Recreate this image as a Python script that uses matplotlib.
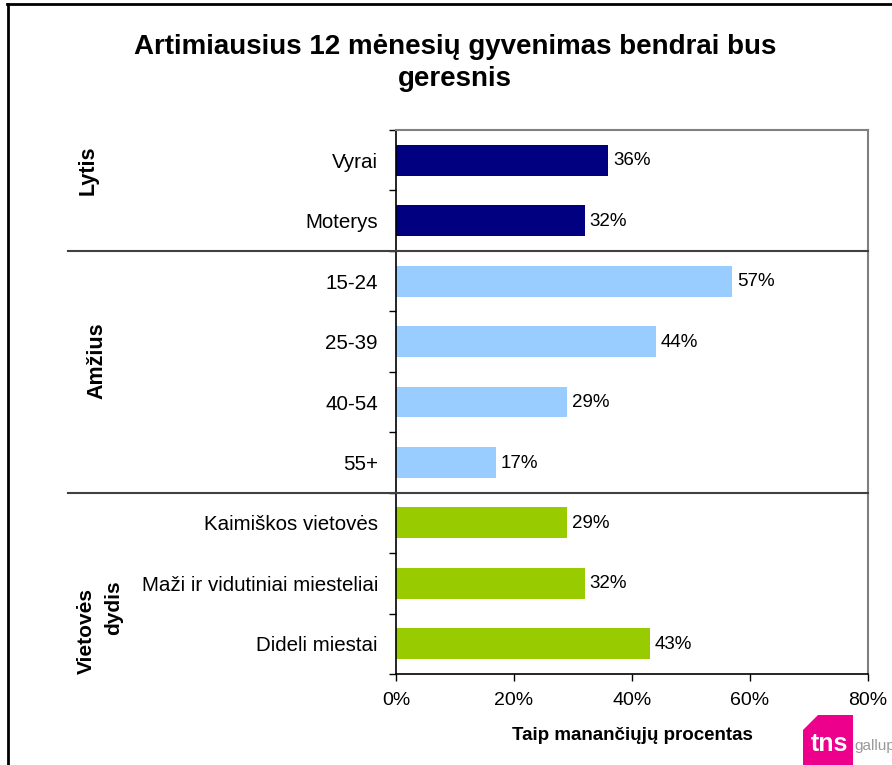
import matplotlib.pyplot as plt
import matplotlib.transforms as mtransforms
from matplotlib.lines import Line2D
from matplotlib.patches import Polygon

plt.rcParams['font.family'] = ['Liberation Sans', 'DejaVu Sans']

# dados
categorias = ["Vyrai", "Moterys", "15-24", "25-39", "40-54", "55+",
              "Kaimiškos vietovės", "Maži ir vidutiniai miesteliai", "Dideli miestai"]
valores = [36, 32, 57, 44, 29, 17, 29, 32, 43]
grupos = [0, 0, 1, 1, 1, 1, 2, 2, 2]
cores_grupos = ["#000080", "#99CCFF", "#99CC00"]
xticks = [0, 20, 40, 60, 80]

fig = plt.figure(figsize=(8.92, 7.65), dpi=100)
ax = fig.add_axes([396 / 892, 1 - 674 / 765, 472 / 892, 544 / 765])

pos = list(range(len(categorias)))
cores = [cores_grupos[g] for g in grupos]
ax.barh(pos, valores, height=0.51, color=cores, zorder=2)

for p, v in zip(pos, valores):
    ax.text(v + 0.8, p + 0.01, f"{v}%", va="center", ha="left", fontsize=13.5)

ax.set_xlim(0, 80)
ax.set_ylim(len(categorias) - 0.5, -0.5)
ax.set_xticks(xticks)
ax.set_xticklabels([f"{t}%" for t in xticks], fontsize=14)
ax.set_yticks(pos)
ax.set_yticklabels(categorias, fontsize=14.8)
ax.set_yticks([p + 0.5 for p in range(-1, len(categorias))], minor=True)
ax.tick_params(axis="y", which="major", length=0, pad=13)
ax.tick_params(axis="y", which="minor", length=5, width=1, direction="out")
ax.tick_params(axis="x", length=5, width=1, direction="out", pad=8)

for lado in ["left", "bottom"]:
    ax.spines[lado].set_color("black")
    ax.spines[lado].set_linewidth(1.2)
for lado in ["top", "right"]:
    ax.spines[lado].set_color("#808080")
    ax.spines[lado].set_linewidth(1.5)

# linhas separadoras dos grupos
trans = mtransforms.blended_transform_factory(fig.transFigure, ax.transData)
for y in [1.5, 5.5]:
    ax.add_line(Line2D([68 / 892, 868 / 892], [y, y], transform=trans,
                       color="#404040", lw=1.5, clip_on=False, zorder=3))

# rotulos dos grupos
fig.text(88 / 892, 1 - 170 / 765, "Lytis", rotation=90, ha="center", va="center",
         fontsize=15.5, fontweight="bold")
fig.text(97 / 892, 1 - 361 / 765, "Amžius", rotation=90, ha="center", va="center",
         fontsize=15.5, fontweight="bold")
fig.text(86 / 892, 1 - 631 / 765, "Vietovės", rotation=90, ha="center", va="center",
         fontsize=15, fontweight="bold")
fig.text(114 / 892, 1 - 608 / 765, "dydis", rotation=90, ha="center", va="center",
         fontsize=15, fontweight="bold")

fig.text(455 / 892, 1 - 63 / 765, "Artimiausius 12 mėnesių gyvenimas bendrai bus\ngeresnis",
         ha="center", va="center", fontsize=20, fontweight="bold", linespacing=1.25)
fig.text(632 / 892, 1 - 735 / 765, "Taip manančiųjų procentas", ha="center", va="center",
         fontsize=13.5, fontweight="bold")

# moldura
fig.add_artist(Line2D([7.5 / 892, 7.5 / 892], [0, 1 - 4 / 765], color="black", lw=2))
fig.add_artist(Line2D([7 / 892, 1], [1 - 4 / 765, 1 - 4 / 765], color="black", lw=2))

# logo tns gallup
W, H = 892, 765
logo = [(803, 765), (803, 730), (818, 715), (853, 715), (853, 765)]
fig.add_artist(Polygon([(x / W, 1 - y / H) for x, y in logo], closed=True,
                       facecolor="#EC008C", edgecolor="none", transform=fig.transFigure))
fig.text(829 / W, 1 - 744 / H, "tns", ha="center", va="center", fontsize=18,
         fontweight="bold", color="white")
fig.text(854 / W, 1 - 746 / H, "gallup", ha="left", va="center", fontsize=11,
         color="#999999")

fig.savefig("out.png", dpi=100)
